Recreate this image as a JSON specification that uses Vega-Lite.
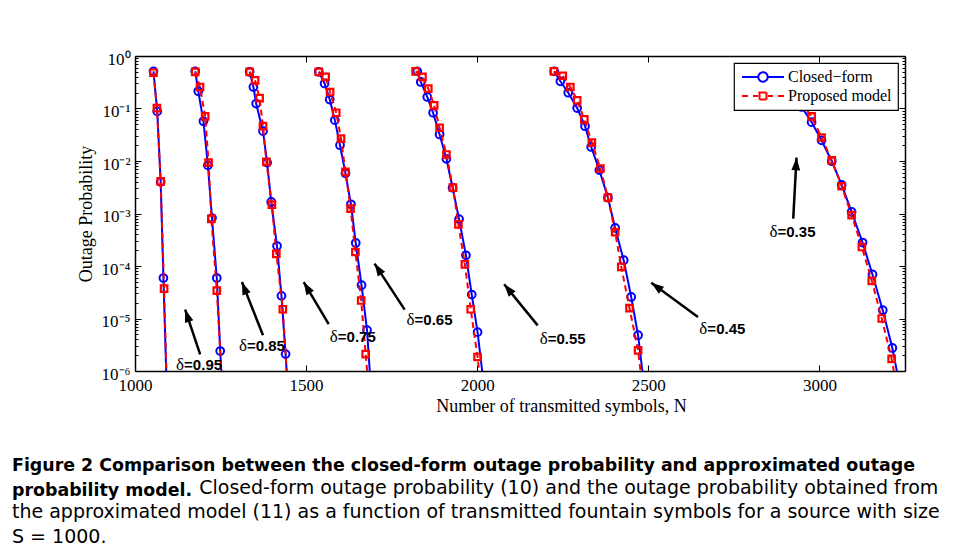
{
  "$schema": "https://vega.github.io/schema/vega-lite/v6.json",
  "width": 770,
  "height": 315,
  "autosize": {"type": "none"},
  "padding": {"left": 135, "top": 56, "right": 51, "bottom": 185},
  "background": "white",
  "title": {
    "text": ["Figure 2 Comparison between the closed-form outage probability and approximated outage", "probability model."],
    "subtitle": ["\u200b\u00a0\u00a0\u00a0\u00a0\u00a0\u00a0\u00a0\u00a0\u00a0\u00a0\u00a0\u00a0\u00a0\u00a0\u00a0\u00a0\u00a0\u00a0\u00a0\u00a0\u00a0\u00a0\u00a0\u00a0\u00a0\u00a0\u00a0\u00a0\u00a0\u00a0\u00a0Closed-form outage probability (10) and the outage probability obtained from", "the approximated model (11) as a function of transmitted fountain symbols for a source with size", "S = 1000."],
    "orient": "bottom",
    "anchor": "start",
    "frame": "group",
    "dx": -123,
    "offset": 42,
    "font": "DejaVu Sans",
    "fontSize": 17.4,
    "fontWeight": "bold",
    "color": "black",
    "lineHeight": 24.5,
    "subtitleFont": "DejaVu Sans",
    "subtitleFontSize": 19,
    "subtitleColor": "black",
    "subtitleLineHeight": 24.5,
    "subtitlePadding": -20
  },
  "datasets": {
    "curves": [
      {"d":"0.95","s":"C","N":1054,"P":0.51},{"d":"0.95","s":"C","N":1065,"P":0.088},{"d":"0.95","s":"C","N":1075,"P":0.004},{"d":"0.95","s":"C","N":1083,"P":5.9e-5},{"d":"0.95","s":"C","N":1093,"P":4e-7},
      {"d":"0.95","s":"M","N":1054,"P":0.48},{"d":"0.95","s":"M","N":1064,"P":0.102},{"d":"0.95","s":"M","N":1075,"P":0.0041},{"d":"0.95","s":"M","N":1085,"P":3.7e-5},{"d":"0.95","s":"M","N":1094,"P":3e-7},
      {"d":"0.85","s":"C","N":1176,"P":0.51},{"d":"0.85","s":"C","N":1185,"P":0.213},{"d":"0.85","s":"C","N":1200,"P":0.057},{"d":"0.85","s":"C","N":1213,"P":0.0083},{"d":"0.85","s":"C","N":1225,"P":8.2e-4},{"d":"0.85","s":"C","N":1239,"P":5.9e-5},{"d":"0.85","s":"C","N":1249,"P":2.4e-6},{"d":"0.85","s":"C","N":1258,"P":2e-7},
      {"d":"0.85","s":"M","N":1176,"P":0.50},{"d":"0.85","s":"M","N":1190,"P":0.257},{"d":"0.85","s":"M","N":1205,"P":0.071},{"d":"0.85","s":"M","N":1215,"P":0.0093},{"d":"0.85","s":"M","N":1223,"P":7.9e-4},{"d":"0.85","s":"M","N":1239,"P":3.4e-5},{"d":"0.85","s":"M","N":1255,"P":5e-7},
      {"d":"0.75","s":"C","N":1335,"P":0.50},{"d":"0.75","s":"C","N":1346,"P":0.257},{"d":"0.75","s":"C","N":1354,"P":0.124},{"d":"0.75","s":"C","N":1374,"P":0.037},{"d":"0.75","s":"C","N":1386,"P":0.0093},{"d":"0.75","s":"C","N":1398,"P":0.00166},{"d":"0.75","s":"C","N":1415,"P":2.4e-4},{"d":"0.75","s":"C","N":1428,"P":2.7e-5},{"d":"0.75","s":"C","N":1440,"P":2.1e-6},{"d":"0.75","s":"C","N":1450,"P":2e-7},
      {"d":"0.75","s":"M","N":1335,"P":0.50},{"d":"0.75","s":"M","N":1351,"P":0.344},{"d":"0.75","s":"M","N":1364,"P":0.158},{"d":"0.75","s":"M","N":1374,"P":0.046},{"d":"0.75","s":"M","N":1384,"P":0.0096},{"d":"0.75","s":"M","N":1400,"P":0.00148},{"d":"0.75","s":"M","N":1413,"P":1.7e-4},{"d":"0.75","s":"M","N":1432,"P":1.5e-5},{"d":"0.75","s":"M","N":1447,"P":4e-7},
      {"d":"0.65","s":"C","N":1537,"P":0.50},{"d":"0.65","s":"C","N":1554,"P":0.30},{"d":"0.65","s":"C","N":1569,"P":0.148},{"d":"0.65","s":"C","N":1584,"P":0.060},{"d":"0.65","s":"C","N":1599,"P":0.020},{"d":"0.65","s":"C","N":1615,"P":0.0058},{"d":"0.65","s":"C","N":1631,"P":0.0015},{"d":"0.65","s":"C","N":1645,"P":2.75e-4},{"d":"0.65","s":"C","N":1662,"P":4.3e-5},{"d":"0.65","s":"C","N":1678,"P":6e-6},{"d":"0.65","s":"C","N":1690,"P":4e-7},
      {"d":"0.65","s":"M","N":1537,"P":0.50},{"d":"0.65","s":"M","N":1557,"P":0.40},{"d":"0.65","s":"M","N":1570,"P":0.206},{"d":"0.65","s":"M","N":1588,"P":0.083},{"d":"0.65","s":"M","N":1602,"P":0.0267},{"d":"0.65","s":"M","N":1615,"P":0.0062},{"d":"0.65","s":"M","N":1630,"P":0.00124},{"d":"0.65","s":"M","N":1644,"P":1.85e-4},{"d":"0.65","s":"M","N":1661,"P":2.2e-5},{"d":"0.65","s":"M","N":1674,"P":2.1e-6},{"d":"0.65","s":"M","N":1688,"P":2e-7},
      {"d":"0.55","s":"C","N":1825,"P":0.51},{"d":"0.55","s":"C","N":1835,"P":0.32},{"d":"0.55","s":"C","N":1854,"P":0.166},{"d":"0.55","s":"C","N":1871,"P":0.083},{"d":"0.55","s":"C","N":1890,"P":0.032},{"d":"0.55","s":"C","N":1910,"P":0.011},{"d":"0.55","s":"C","N":1928,"P":0.0031},{"d":"0.55","s":"C","N":1947,"P":7.8e-4},{"d":"0.55","s":"C","N":1967,"P":1.6e-4},{"d":"0.55","s":"C","N":1984,"P":2.85e-5},{"d":"0.55","s":"C","N":2001,"P":5.5e-6},{"d":"0.55","s":"C","N":2020,"P":5e-7},
      {"d":"0.55","s":"M","N":1820,"P":0.51},{"d":"0.55","s":"M","N":1840,"P":0.40},{"d":"0.55","s":"M","N":1857,"P":0.24},{"d":"0.55","s":"M","N":1874,"P":0.115},{"d":"0.55","s":"M","N":1890,"P":0.043},{"d":"0.55","s":"M","N":1910,"P":0.0133},{"d":"0.55","s":"M","N":1929,"P":0.0031},{"d":"0.55","s":"M","N":1945,"P":6.2e-4},{"d":"0.55","s":"M","N":1964,"P":1.07e-4},{"d":"0.55","s":"M","N":1981,"P":1.5e-5},{"d":"0.55","s":"M","N":2001,"P":1.85e-6},{"d":"0.55","s":"M","N":2020,"P":1.5e-7},
      {"d":"0.45","s":"C","N":2225,"P":0.51},{"d":"0.45","s":"C","N":2243,"P":0.33},{"d":"0.45","s":"C","N":2266,"P":0.20},{"d":"0.45","s":"C","N":2292,"P":0.102},{"d":"0.45","s":"C","N":2315,"P":0.046},{"d":"0.45","s":"C","N":2333,"P":0.0185},{"d":"0.45","s":"C","N":2357,"P":0.0067},{"d":"0.45","s":"C","N":2382,"P":0.0020},{"d":"0.45","s":"C","N":2403,"P":5.3e-4},{"d":"0.45","s":"C","N":2428,"P":1.29e-4},{"d":"0.45","s":"C","N":2450,"P":2.57e-5},{"d":"0.45","s":"C","N":2470,"P":4.8e-6},{"d":"0.45","s":"C","N":2490,"P":4e-7},
      {"d":"0.45","s":"M","N":2224,"P":0.51},{"d":"0.45","s":"M","N":2250,"P":0.42},{"d":"0.45","s":"M","N":2272,"P":0.257},{"d":"0.45","s":"M","N":2292,"P":0.143},{"d":"0.45","s":"M","N":2313,"P":0.062},{"d":"0.45","s":"M","N":2335,"P":0.0224},{"d":"0.45","s":"M","N":2360,"P":0.0072},{"d":"0.45","s":"M","N":2382,"P":0.0020},{"d":"0.45","s":"M","N":2403,"P":4.4e-4},{"d":"0.45","s":"M","N":2421,"P":9.6e-5},{"d":"0.45","s":"M","N":2445,"P":1.58e-5},{"d":"0.45","s":"M","N":2470,"P":2.47e-6},{"d":"0.45","s":"M","N":2492,"P":1.5e-7},
      {"d":"0.35","s":"C","N":2830,"P":0.5},{"d":"0.35","s":"C","N":2860,"P":0.38},{"d":"0.35","s":"C","N":2890,"P":0.26},{"d":"0.35","s":"C","N":2920,"P":0.165},{"d":"0.35","s":"C","N":2948,"P":0.107},{"d":"0.35","s":"C","N":2977,"P":0.055},{"d":"0.35","s":"C","N":3006,"P":0.0248},{"d":"0.35","s":"C","N":3036,"P":0.0099},{"d":"0.35","s":"C","N":3065,"P":0.0035},{"d":"0.35","s":"C","N":3094,"P":0.00107},{"d":"0.35","s":"C","N":3126,"P":2.8e-4},{"d":"0.35","s":"C","N":3155,"P":6.9e-5},{"d":"0.35","s":"C","N":3185,"P":1.44e-5},{"d":"0.35","s":"C","N":3213,"P":2.75e-6},{"d":"0.35","s":"C","N":3242,"P":3e-7},
      {"d":"0.35","s":"M","N":2835,"P":0.5},{"d":"0.35","s":"M","N":2862,"P":0.42},{"d":"0.35","s":"M","N":2890,"P":0.3},{"d":"0.35","s":"M","N":2920,"P":0.2},{"d":"0.35","s":"M","N":2948,"P":0.125},{"d":"0.35","s":"M","N":2977,"P":0.071},{"d":"0.35","s":"M","N":3006,"P":0.028},{"d":"0.35","s":"M","N":3036,"P":0.0103},{"d":"0.35","s":"M","N":3065,"P":0.0033},{"d":"0.35","s":"M","N":3094,"P":9.3e-4},{"d":"0.35","s":"M","N":3124,"P":2.3e-4},{"d":"0.35","s":"M","N":3153,"P":5.2e-5},{"d":"0.35","s":"M","N":3182,"P":1.0e-5},{"d":"0.35","s":"M","N":3211,"P":1.7e-6},{"d":"0.35","s":"M","N":3240,"P":1.5e-7}
    ],
    "arrows": [
      {"d":"0.95","N":1190.4,"P":2.08e-6,"N2":1146.5,"P2":1.48e-5,"ang":-18.5},
      {"d":"0.85","N":1374,"P":4.8e-6,"N2":1312.5,"P2":4.95e-5,"ang":-21.5},
      {"d":"0.75","N":1566,"P":7.8e-6,"N2":1493,"P2":4.95e-5,"ang":-30.6},
      {"d":"0.65","N":1788,"P":1.48e-5,"N2":1700,"P2":1.11e-4,"ang":-33.1},
      {"d":"0.55","N":2176.6,"P":7.4e-6,"N2":2078.7,"P2":4.5e-5,"ang":-39.2},
      {"d":"0.45","N":2645,"P":1.07e-5,"N2":2508.5,"P2":4.8e-5,"ang":-53.9},
      {"d":"0.35","N":2923.4,"P":8.0e-4,"N2":2933,"P2":0.0116,"ang":3.1}
    ],
    "labels": [
      {"d":"0.95","N":1143.5,"P":1.28e-6,"t":"=0.95"},
      {"d":"0.85","N":1327,"P":2.95e-6,"t":"=0.85"},
      {"d":"0.75","N":1592.6,"P":4.45e-6,"t":"=0.75"},
      {"d":"0.65","N":1817,"P":9.2e-6,"t":"=0.65"},
      {"d":"0.55","N":2206,"P":4.14e-6,"t":"=0.55"},
      {"d":"0.45","N":2672.5,"P":6.4e-6,"t":"=0.45"},
      {"d":"0.35","N":2877.5,"P":4.45e-4,"t":"=0.35"}
    ]
  },
  "resolve": {"axis": {"x": "independent", "y": "independent"}},
  "layer": [
    {
      "data": {"name": "curves"},
      "transform": [{"filter": "datum.s == 'C'"}],
      "mark": {"type": "line", "strokeWidth": 2, "clip": true},
      "encoding": {
        "x": {"field": "N", "type": "quantitative", "scale": {"domain": [1000, 3250], "nice": false, "zero": false},
              "axis": {"orient": "bottom", "values": [1000, 1500, 2000, 2500, 3000], "format": "d", "tickSize": -6, "labelPadding": 12, "title": "Number of transmitted symbols, N", "titleX": 426, "titlePadding": 4, "labelFlush": false}},
        "y": {"field": "P", "type": "quantitative", "scale": {"type": "log", "domain": [1e-6, 1], "nice": false},
              "axis": {"orient": "left", "values": [1e-6, 1e-5, 1e-4, 0.001, 0.01, 0.1, 1], "tickSize": -6, "labelPadding": 11, "labelOffset": 3, "title": "Outage Probability", "titlePadding": 6, "labelFlush": false,
                       "labelExpr": "'10' + (datum.value > 0.5 ? '⁰' : datum.value > 0.05 ? '⁻¹' : datum.value > 0.005 ? '⁻²' : datum.value > 0.0005 ? '⁻³' : datum.value > 0.00005 ? '⁻⁴' : datum.value > 0.000005 ? '⁻⁵' : '⁻⁶')"}},
        "detail": {"field": "d"},
        "color": {"field": "s", "type": "nominal", "scale": {"domain": ["C", "M"], "range": ["#0000ff", "#ff0000"]},
                  "legend": {"title": null, "orient": "top-right", "offset": 7, "zindex": 2, "padding": 6, "strokeColor": "black", "fillColor": "white",
                             "labelFont": "Liberation Serif", "labelFontSize": 16, "labelColor": "black", "symbolSize": 100, "symbolStrokeWidth": 2, "labelOffset": 32, "rowPadding": 2,
                             "labelExpr": "datum.value == 'C' ? 'Closed−form' : 'Proposed model'",
                             "encode": {"symbols": {"update": {
                               "shape": {"signal": "datum.value == 'C' ? 'M-1.2,0H2.06M3.94,0H7.2M3.94,0A0.94,0.94 0 1 1 2.06,0A0.94,0.94 0 1 1 3.94,0' : 'M-1.2,0H0M1,0H2M4,0H5M6,0H7.2M2.3,-0.7H3.7V0.7H2.3Z'"},
                               "fill": {"value": "transparent"},
                               "strokeDash": {"value": [1, 0]}
                             }}}}}
      }
    },
    {
      "data": {"name": "curves"},
      "transform": [{"filter": "datum.s == 'C'"}],
      "mark": {"type": "point", "shape": "circle", "filled": false, "size": 60, "strokeWidth": 2, "clip": true, "opacity": 1},
      "encoding": {
        "x": {"field": "N", "type": "quantitative", "scale": {"domain": [1000, 3250], "nice": false, "zero": false}, "axis": null},
        "y": {"field": "P", "type": "quantitative", "scale": {"type": "log", "domain": [1e-6, 1], "nice": false},
              "axis": {"orient": "left", "values": [2e-6,3e-6,4e-6,5e-6,6e-6,7e-6,8e-6,9e-6,2e-5,3e-5,4e-5,5e-5,6e-5,7e-5,8e-5,9e-5,2e-4,3e-4,4e-4,5e-4,6e-4,7e-4,8e-4,9e-4,0.002,0.003,0.004,0.005,0.006,0.007,0.008,0.009,0.02,0.03,0.04,0.05,0.06,0.07,0.08,0.09,0.2,0.3,0.4,0.5,0.6,0.7,0.8,0.9], "tickSize": -3, "labels": false, "domain": false, "title": null}},
        "color": {"field": "s", "type": "nominal", "scale": {"domain": ["C", "M"], "range": ["#0000ff", "#ff0000"]}, "legend": null}
      }
    },
    {
      "data": {"name": "curves"},
      "transform": [{"filter": "datum.s == 'M'"}],
      "mark": {"type": "line", "strokeWidth": 2, "strokeDash": [6, 4], "clip": true},
      "encoding": {
        "x": {"field": "N", "type": "quantitative", "scale": {"domain": [1000, 3250], "nice": false, "zero": false},
              "axis": {"orient": "top", "values": [1000, 1500, 2000, 2500, 3000], "tickSize": -6, "labels": false, "title": null}},
        "y": {"field": "P", "type": "quantitative", "scale": {"type": "log", "domain": [1e-6, 1], "nice": false},
              "axis": {"orient": "right", "values": [1e-6, 1e-5, 1e-4, 0.001, 0.01, 0.1, 1], "tickSize": -6, "labels": false, "title": null}},
        "detail": {"field": "d"},
        "color": {"field": "s", "type": "nominal", "scale": {"domain": ["C", "M"], "range": ["#0000ff", "#ff0000"]}, "legend": null}
      }
    },
    {
      "data": {"name": "curves"},
      "transform": [{"filter": "datum.s == 'M'"}],
      "mark": {"type": "point", "shape": "square", "filled": false, "size": 42, "strokeWidth": 2.2, "clip": true, "opacity": 1},
      "encoding": {
        "x": {"field": "N", "type": "quantitative", "scale": {"domain": [1000, 3250], "nice": false, "zero": false}, "axis": null},
        "y": {"field": "P", "type": "quantitative", "scale": {"type": "log", "domain": [1e-6, 1], "nice": false},
              "axis": {"orient": "right", "values": [2e-6,3e-6,4e-6,5e-6,6e-6,7e-6,8e-6,9e-6,2e-5,3e-5,4e-5,5e-5,6e-5,7e-5,8e-5,9e-5,2e-4,3e-4,4e-4,5e-4,6e-4,7e-4,8e-4,9e-4,0.002,0.003,0.004,0.005,0.006,0.007,0.008,0.009,0.02,0.03,0.04,0.05,0.06,0.07,0.08,0.09,0.2,0.3,0.4,0.5,0.6,0.7,0.8,0.9], "tickSize": -3, "labels": false, "domain": false, "title": null}},
        "color": {"field": "s", "type": "nominal", "scale": {"domain": ["C", "M"], "range": ["#0000ff", "#ff0000"]}, "legend": null}
      }
    },
    {
      "data": {"name": "arrows"},
      "mark": {"type": "rule", "strokeWidth": 2.5, "color": "black"},
      "encoding": {
        "x": {"field": "N", "type": "quantitative", "scale": {"domain": [1000, 3250], "nice": false, "zero": false}, "axis": null},
        "y": {"field": "P", "type": "quantitative", "scale": {"type": "log", "domain": [1e-6, 1], "nice": false}, "axis": null},
        "x2": {"field": "N2"},
        "y2": {"field": "P2"}
      }
    },
    {
      "data": {"name": "arrows"},
      "mark": {"type": "point", "shape": "M0,0L-0.8,2.3L0.8,2.3Z", "filled": true, "size": 121, "color": "black", "opacity": 1},
      "encoding": {
        "x": {"field": "N2", "type": "quantitative", "scale": {"domain": [1000, 3250], "nice": false, "zero": false}, "axis": null},
        "y": {"field": "P2", "type": "quantitative", "scale": {"type": "log", "domain": [1e-6, 1], "nice": false}, "axis": null},
        "angle": {"field": "ang", "type": "quantitative", "scale": null}
      }
    },
    {
      "data": {"name": "labels"},
      "mark": {"type": "text", "text": "δ", "align": "right", "baseline": "middle", "font": "Liberation Serif", "fontSize": 17, "color": "black"},
      "encoding": {
        "x": {"field": "N", "type": "quantitative", "scale": {"domain": [1000, 3250], "nice": false, "zero": false}, "axis": null},
        "y": {"field": "P", "type": "quantitative", "scale": {"type": "log", "domain": [1e-6, 1], "nice": false}, "axis": null}
      }
    },
    {
      "data": {"name": "labels"},
      "mark": {"type": "text", "align": "left", "baseline": "middle", "font": "Liberation Sans", "fontWeight": "bold", "fontSize": 15, "color": "black"},
      "encoding": {
        "x": {"field": "N", "type": "quantitative", "scale": {"domain": [1000, 3250], "nice": false, "zero": false}, "axis": null},
        "y": {"field": "P", "type": "quantitative", "scale": {"type": "log", "domain": [1e-6, 1], "nice": false}, "axis": null},
        "text": {"field": "t"}
      }
    }
  ],
  "config": {
    "view": {"stroke": null},
    "axis": {"domainColor": "black", "domainWidth": 1.5, "tickColor": "black", "tickWidth": 1, "grid": false,
             "labelFont": "Liberation Serif", "labelFontSize": 17, "labelColor": "black",
             "titleFont": "Liberation Serif", "titleFontSize": 18, "titleFontWeight": "normal", "titleColor": "black"},
    "legend": {"cornerRadius": 0, "strokeWidth": 1.2, "symbolOffset": 0}
  }
}
